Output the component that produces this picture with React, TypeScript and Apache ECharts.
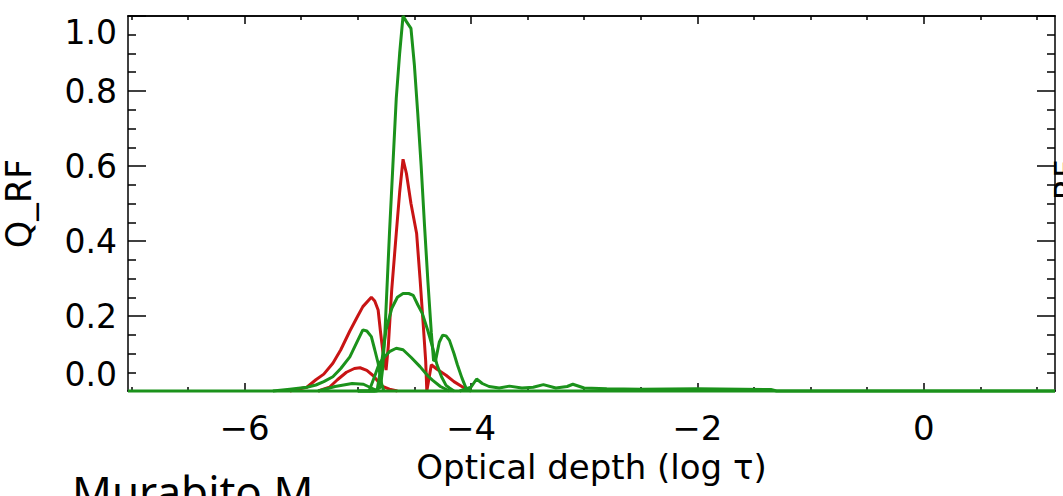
import React, { useEffect, useRef } from "react";
import * as echarts from "echarts";

// ---- axis ticks / labels ----
const xMajorTicks = [-6, -4, -2, 0];
const xMinorTicks = [-7, -6.5, -5.5, -5, -4.5, -3.5, -3, -2.5, -1.5, -1, -0.5, 0.5, 1];
const xRange = [-7.03, 1.16];
const yRange = [0, 1.0];

// ---- red curves (x = log tau, y = Q_RF) ----
const redMain: [number, number][] = [
  [-5.6, 0], [-5.45, 0.01], [-5.37, 0.03], [-5.3, 0.045], [-5.22, 0.074], [-5.15, 0.11],
  [-5.07, 0.16], [-5.0, 0.2], [-4.955, 0.225], [-4.88, 0.25], [-4.85, 0.24], [-4.82, 0.216],
  [-4.8, 0.16], [-4.78, 0.109], [-4.75, 0.056], [-4.73, 0.12], [-4.7, 0.27], [-4.66, 0.42],
  [-4.63, 0.53], [-4.6, 0.618], [-4.57, 0.58], [-4.53, 0.5], [-4.48, 0.42], [-4.45, 0.3],
  [-4.42, 0.17], [-4.4, 0.08], [-4.39, 0.0], [-4.35, 0.07], [-4.3, 0.058], [-4.22, 0.042],
  [-4.15, 0.025], [-4.07, 0.01], [-4.0, 0],
];
const redSmall: [number, number][] = [
  [-5.35, 0], [-5.25, 0.01], [-5.18, 0.03], [-5.1, 0.05], [-5.03, 0.06], [-4.98, 0.062],
  [-4.92, 0.055], [-4.86, 0.04], [-4.82, 0.025], [-4.78, 0.012], [-4.72, 0.005], [-4.65, 0],
];

// ---- green curves ----
const greenPeak: [number, number][] = [
  [-5.0, 0], [-4.85, 0], [-4.8, 0.01], [-4.78, 0.06], [-4.76, 0.155], [-4.72, 0.42],
  [-4.69, 0.6], [-4.66, 0.78], [-4.63, 0.9], [-4.6, 1.0], [-4.57, 0.985], [-4.53, 0.967],
  [-4.5, 0.87], [-4.47, 0.74], [-4.44, 0.6], [-4.41, 0.44], [-4.38, 0.29], [-4.35, 0.155],
  [-4.33, 0.08], [-4.31, 0.085], [-4.28, 0.13], [-4.25, 0.149], [-4.22, 0.147], [-4.19, 0.135],
  [-4.15, 0.1], [-4.12, 0.07], [-4.08, 0.035], [-4.04, 0.005], [-4.0, 0],
];
const greenLeftHump: [number, number][] = [
  [-5.75, 0], [-5.6, 0.005], [-5.45, 0.01], [-5.37, 0.016], [-5.3, 0.025], [-5.22, 0.038],
  [-5.15, 0.06], [-5.07, 0.091], [-5.0, 0.135], [-4.955, 0.163], [-4.92, 0.16], [-4.88, 0.145],
  [-4.85, 0.11], [-4.82, 0.074], [-4.79, 0.02], [-4.77, 0],
];
const greenMid: [number, number][] = [
  [-4.9, 0], [-4.83, 0], [-4.79, 0.074], [-4.75, 0.163], [-4.7, 0.22], [-4.65, 0.25],
  [-4.6, 0.26], [-4.55, 0.26], [-4.51, 0.255], [-4.47, 0.23], [-4.43, 0.207], [-4.38, 0.16],
  [-4.34, 0.118], [-4.3, 0.07], [-4.26, 0.038], [-4.22, 0.015], [-4.19, 0.008], [-4.15, 0],
];
const greenBroad: [number, number][] = [
  [-5.0, 0], [-4.9, 0], [-4.85, 0.04], [-4.81, 0.074], [-4.76, 0.092], [-4.72, 0.105],
  [-4.66, 0.114], [-4.6, 0.11], [-4.53, 0.09], [-4.45, 0.065], [-4.38, 0.04], [-4.34, 0.029],
  [-4.27, 0.012], [-4.19, 0],
];
const greenLow: [number, number][] = [
  [-5.35, 0], [-5.2, 0.012], [-5.05, 0.02], [-4.95, 0.018], [-4.88, 0.008], [-4.82, 0],
];
const greenTail: [number, number][] = [
  [-4.1, 0], [-4.0, 0.01], [-3.95, 0.032], [-3.9, 0.02], [-3.84, 0.012], [-3.75, 0.008],
  [-3.66, 0.013], [-3.55, 0.008], [-3.45, 0.01], [-3.36, 0.017], [-3.25, 0.008], [-3.15, 0.012],
  [-3.1, 0.018], [-3.0, 0.008], [-2.8, 0.006], [-2.5, 0.005], [-2.0, 0.006], [-1.6, 0.005],
  [-1.35, 0.004], [-1.3, 0], [1.16, 0],
];
const greenBase: [number, number][] = [[-7.03, 0], [1.16, 0]];

const RED = "#c81414";
const GREEN = "#1b921b";
const FONT = "DejaVu Sans";

const fmtX = (v: number) => (v < 0 ? "\u2212" + Math.abs(v) : String(v));

export default function App() {
  const ref = useRef<HTMLDivElement>(null);
  useEffect(() => {
    if (!ref.current) return;
    const chart = echarts.init(ref.current, null, { renderer: "svg" });
    const axisLine = { show: true, onZero: false, lineStyle: { color: "#000", width: 1.5 } };
    const mkX = (position: "top" | "bottom", ticks: number[], len: number, main: boolean) => ({
      type: "value",
      position,
      min: xRange[0],
      max: xRange[1],
      axisLine,
      splitLine: { show: false },
      axisTick: { show: true, inside: true, length: len, customValues: ticks, lineStyle: { color: "#000", width: 1.5 } },
      axisLabel: main
        ? { show: true, customValues: ticks, formatter: fmtX, fontSize: 34, fontFamily: FONT, color: "#000", margin: 20 }
        : { show: false },
      ...(main && position === "bottom"
        ? {
            name: "Optical depth (log \u03c4)",
            nameLocation: "middle",
            nameGap: 53,
            nameTextStyle: { fontSize: 34, fontFamily: FONT, color: "#000" },
          }
        : {}),
    });
    const mkY = (position: "left" | "right", main: boolean) => ({
      type: "value",
      position,
      min: yRange[0],
      max: yRange[1],
      interval: 0.2,
      axisLine,
      splitLine: { show: false },
      axisTick: { show: true, inside: true, length: 18, lineStyle: { color: "#000", width: 1.5 } },
      minorTick: { show: true, splitNumber: 4, length: 8, lineStyle: { color: "#000", width: 1.5 } },
      axisLabel: main
        ? {
            show: true,
            formatter: (v: number) => v.toFixed(1),
            fontSize: 33,
            fontFamily: FONT,
            color: "#000",
            margin: 11,
            verticalAlignMinLabel: "bottom",
            verticalAlignMaxLabel: "top",
          }
        : { show: false },
      ...(main
        ? {
            name: "Q_RF",
            nameLocation: "middle",
            nameRotate: 90,
            nameGap: 92,
            nameTextStyle: { fontSize: 35, fontFamily: FONT, color: "#000" },
          }
        : {}),
    });
    const line = (data: [number, number][], color: string) => ({
      type: "line",
      data,
      xAxisIndex: 0,
      yAxisIndex: 0,
      showSymbol: false,
      symbol: "none",
      clip: false,
      lineStyle: { color, width: 3 },
      silent: true,
    });
    chart.setOption({
      animation: false,
      backgroundColor: "#fff",
      grid: { left: 128, right: 8, top: 16, bottom: 105, containLabel: false, outerBoundsMode: "none" },
      xAxis: [
        mkX("bottom", xMajorTicks, 8, true),
        mkX("bottom", xMinorTicks, 4, false),
        mkX("top", xMajorTicks, 8, false),
        mkX("top", xMinorTicks, 4, false),
      ],
      yAxis: [mkY("left", true), mkY("right", false)],
      series: [
        line(redMain, RED),
        line(redSmall, RED),
        line(greenLeftHump, GREEN),
        line(greenMid, GREEN),
        line(greenBroad, GREEN),
        line(greenLow, GREEN),
        line(greenPeak, GREEN),
        line(greenTail, GREEN),
        line(greenBase, GREEN),
      ],
      graphic: [
        {
          type: "text",
          left: 72,
          top: 469,
          style: { text: "Murabito M", fontSize: 44, fontFamily: "Noto Sans", fill: "#000" },
        },
        {
          type: "text",
          x: 1050,
          y: 180,
          rotation: Math.PI / 2,
          style: { text: "RF", fontSize: 32, fontFamily: FONT, fill: "#000", align: "center", verticalAlign: "top" },
        },
      ],
    });
    return () => chart.dispose();
  }, []);
  return (
    <div
      ref={ref}
      style={{ position: "fixed", left: 0, top: 0, width: 1063, height: 496, background: "#fff" }}
    />
  );
}
